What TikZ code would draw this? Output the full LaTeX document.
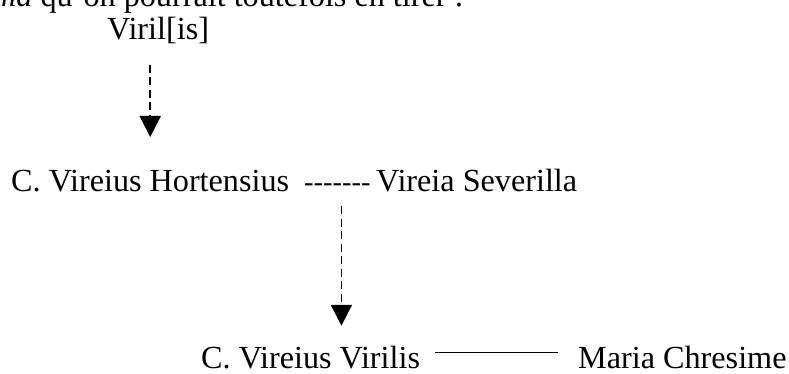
\documentclass[tikz,border=0pt]{standalone}
\usepackage{fontspec}
\setmainfont{Liberation Serif}
\usetikzlibrary{arrows.meta,calc}
\begin{document}
\begin{tikzpicture}[x=1pt,y=-1pt,
  lbl/.style={anchor=base west,inner sep=0pt,font=\fontsize{32.2}{38}\selectfont},
  hyph/.style={anchor=base west,inner sep=0pt,font=\fontsize{28.5}{34}\selectfont},
  desc/.style={dash pattern=on 8pt off 4.5pt,line width=1.8pt,-{Triangle[width=21pt,length=21pt]}},
  wed/.style={line width=1.5pt}]
\useasboundingbox (0,0) rectangle (789,374);
\clip (0,0) rectangle (789,374);
\node[lbl] (intro) at (-66,7) {\textit{stemma} qu'on pourrait toutefois en tirer :};
\node[lbl] (viril) at (107,40) {Viril[is]};
\node[lbl] (hort) at (11,192) {C. Vireius Hortensius};
\node[hyph] (m1) at (304,191) {-{}-{}-{}-{}-{}-{}-};
\node[lbl] (sev) at (376,192) {Vireia Severilla};
\node[lbl] (vir) at (201,368.8) {C. Vireius Virilis};
\node[lbl] (mar) at (578,368.8) {Maria Chresime};
\draw[desc,shorten <=20pt,shorten >=33.5pt] (viril.south -| hort.north) -- (hort.north);
\draw[desc,shorten <=15pt,shorten >=20.5pt] ([xshift=4pt]m1.south) -- ([xshift=4pt]m1.south |- vir.north);
\draw[wed] ($(vir.base east)+(15,-16.5)$) -- ($(mar.base west)+(-20,-16.5)$);
\end{tikzpicture}
\end{document}
